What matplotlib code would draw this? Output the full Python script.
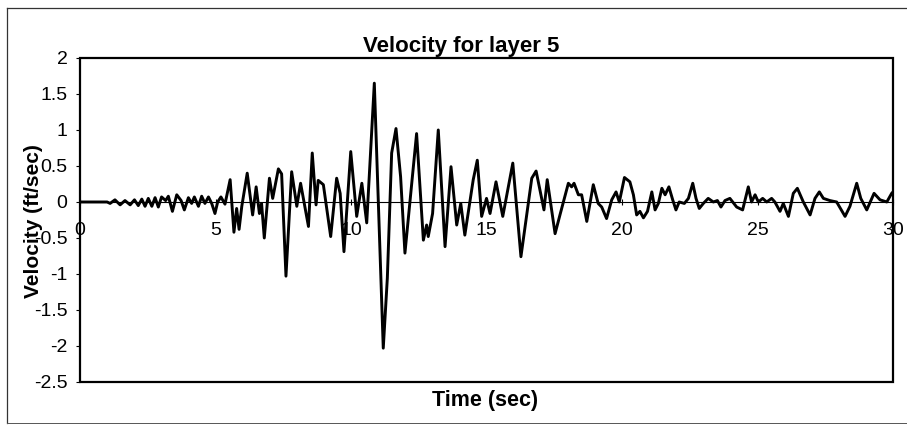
import numpy as np
import matplotlib
matplotlib.use('Agg')
import matplotlib.pyplot as plt
from matplotlib.lines import Line2D
from matplotlib.patches import Rectangle
from matplotlib.ticker import FormatStrFormatter

plt.rcParams['font.family'] = ['Liberation Sans', 'DejaVu Sans']
plt.rcParams['axes.unicode_minus'] = False

# velocity record (peaks / troughs)
time_sec = [0.0, 1.0, 1.11, 1.29, 1.48, 1.66, 1.85, 2.01, 2.15, 2.28, 2.4, 2.52, 2.65, 2.77,
            2.89, 3.01, 3.16, 3.26, 3.41, 3.57, 3.73, 3.85, 4.0, 4.12, 4.22, 4.37, 4.49,
            4.61, 4.74, 4.86, 4.98, 5.08, 5.2, 5.35, 5.54, 5.68, 5.78, 5.87, 5.97, 6.17,
            6.37, 6.5, 6.62, 6.7, 6.8, 6.99, 7.11, 7.32, 7.44, 7.6, 7.81, 8.0, 8.14, 8.43,
            8.57, 8.71, 8.79, 8.98, 9.25, 9.47, 9.6, 9.74, 9.99, 10.21, 10.4, 10.58, 10.86,
            11.19, 11.34, 11.5, 11.66, 11.83, 11.99, 12.42, 12.67, 12.79, 12.85, 13.01,
            13.22, 13.47, 13.69, 13.9, 14.05, 14.2, 14.51, 14.66, 14.82, 15.0, 15.13,
            15.35, 15.6, 15.97, 16.27, 16.67, 16.83, 17.12, 17.24, 17.53, 17.71, 18.02,
            18.14, 18.23, 18.39, 18.51, 18.7, 18.94, 19.12, 19.25, 19.43, 19.62, 19.78,
            19.9, 20.09, 20.29, 20.42, 20.54, 20.66, 20.79, 20.94, 21.1, 21.22, 21.34,
            21.47, 21.59, 21.73, 21.87, 21.99, 22.11, 22.3, 22.45, 22.61, 22.73, 22.85,
            23.0, 23.18, 23.37, 23.52, 23.65, 23.8, 23.98, 24.23, 24.45, 24.66, 24.78,
            24.91, 25.03, 25.19, 25.34, 25.52, 25.64, 25.83, 25.95, 26.14, 26.32, 26.47,
            26.69, 26.94, 27.12, 27.28, 27.43, 27.67, 27.92, 28.23, 28.41, 28.66, 28.81,
            29.03, 29.3, 29.52, 29.77, 29.95, 30.0]
velocity = [0.0, 0.0, -0.02, 0.03, -0.04, 0.02, -0.04, 0.03, -0.05, 0.04, -0.06, 0.05, -0.06, 0.06,
            -0.07, 0.07, 0.02, 0.08, -0.13, 0.1, 0.02, -0.11, 0.06, -0.02, 0.07, -0.06, 0.08,
            -0.02, 0.07, -0.02, -0.16, 0.0, 0.07, -0.03, 0.31, -0.42, -0.09, -0.38, -0.06, 0.40,
            -0.18, 0.21, -0.16, -0.02, -0.50, 0.33, 0.05, 0.46, 0.39, -1.03, 0.42, -0.06, 0.26, -0.34,
            0.68, -0.04, 0.30, 0.24, -0.48, 0.33, 0.12, -0.69, 0.70, -0.20, 0.26, -0.29, 1.65,
            -2.03, -1.06, 0.68, 1.02, 0.35, -0.71, 0.95, -0.53, -0.32, -0.48, -0.16,
            1.0, -0.62, 0.49, -0.32, -0.02, -0.46, 0.31, 0.58, -0.20, 0.05, -0.16,
            0.28, -0.20, 0.54, -0.76, 0.33, 0.43, -0.11, 0.31, -0.44, -0.18, 0.26,
            0.21, 0.26, 0.1, 0.1, -0.27, 0.24, -0.02, -0.07, -0.23, 0.03, 0.14,
            0.0, 0.34, 0.28, 0.1, -0.18, -0.13, -0.22, -0.13, 0.14, -0.11, -0.02,
            0.19, 0.10, 0.21, 0.03, -0.11, 0.0, -0.02, 0.05, 0.26, 0.05, -0.09,
            -0.02, 0.05, 0.0, 0.02, -0.07, 0.02, 0.05, -0.07, -0.11, 0.21, 0.0,
            0.10, 0.0, 0.05, 0.0, 0.05, 0.0, -0.13, -0.02, -0.2, 0.12, 0.19,
            0.0, -0.18, 0.05, 0.14, 0.05, 0.02, 0.0, -0.2, -0.06, 0.26, 0.05,
            -0.11, 0.12, 0.03, 0.0, 0.12, 0.14]

xticks = [0, 5, 10, 15, 20, 25, 30]
yticks = [-2.5, -2, -1.5, -1, -0.5, 0, 0.5, 1, 1.5, 2]

fig = plt.figure(figsize=(9.07, 4.26), dpi=100)
ax = fig.add_axes([0.0882, 0.1033, 0.8964, 0.7606])

ax.plot(time_sec, velocity, color='black', lw=2.1, solid_joinstyle='round')
ax.set_xlim(0, 30)
ax.set_ylim(-2.5, 2)
ax.set_xticks(xticks)
ax.set_yticks(yticks)
ax.yaxis.set_major_formatter(FormatStrFormatter('%g'))

# Excel style: x axis crosses at zero, plot area has its own box
for s in ['left', 'top', 'right']:
    ax.spines[s].set_visible(False)
ax.spines['bottom'].set_position(('data', 0))
ax.spines['bottom'].set_linewidth(0.8)
ax.add_patch(Rectangle((0, 0), 1, 1, transform=ax.transAxes, fill=False,
                       lw=1.6, ec='black', clip_on=False, zorder=5))

ax.tick_params(axis='x', direction='inout', length=5, width=0.8, pad=12, labelsize=14)
ax.tick_params(axis='y', direction='out', length=3, width=0.8, pad=6, labelsize=14)

fig.text(461 / 907, 1 - 52 / 426, 'Velocity for layer 5', ha='center', va='baseline',
         fontsize=16, fontweight='bold')
fig.text(485 / 907, 1 - 406 / 426, 'Time (sec)', ha='center', va='baseline',
         fontsize=15.5, fontweight='bold')
fig.text(34 / 907, 1 - 221 / 426, 'Velocity (ft/sec)', ha='center', va='center',
         rotation=90, fontsize=15, fontweight='bold')

# outer chart border
fig.add_artist(Line2D([7 / 907, 7 / 907], [1 - 8 / 426, 1 - 423 / 426], color='#333333', lw=0.9))
fig.add_artist(Line2D([7 / 907, 1], [1 - 8 / 426, 1 - 8 / 426], color='#333333', lw=0.9))
fig.add_artist(Line2D([7 / 907, 1], [1 - 423 / 426, 1 - 423 / 426], color='#555555', lw=0.7))

fig.savefig('out.png', dpi=100, facecolor='white')
